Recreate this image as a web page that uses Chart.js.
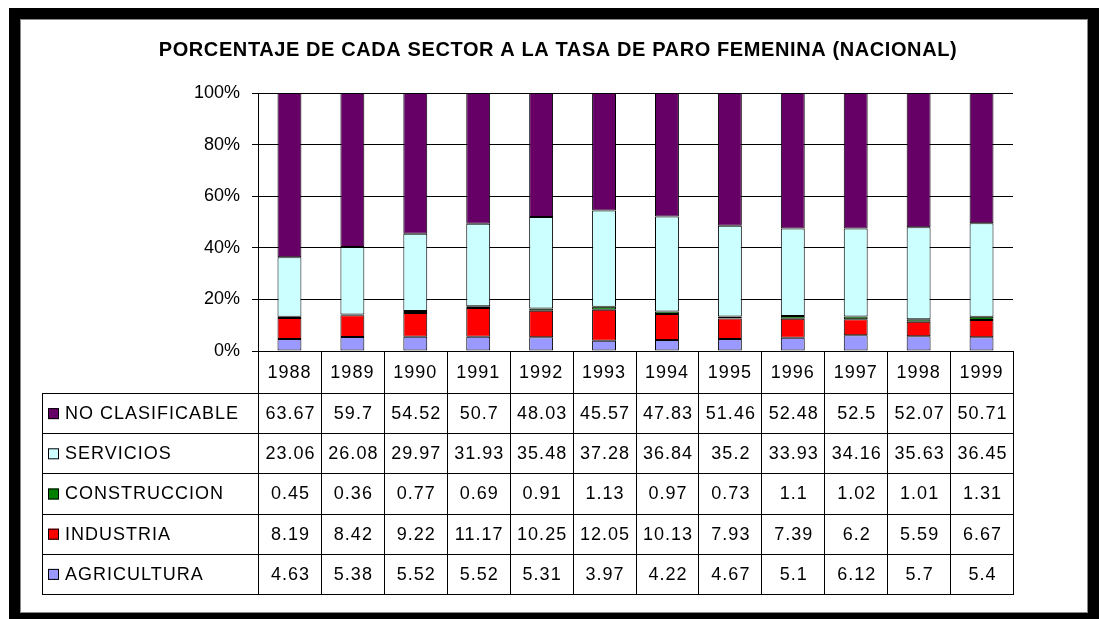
<!DOCTYPE html>
<html>
<head>
<meta charset="utf-8">
<script src="https://cdn.jsdelivr.net/npm/chart.js@4/dist/chart.umd.min.js"></script>
<style>
  body { margin: 0; background: #fff; }
  #wrap { width: 1101px; height: 619px; }
</style>
</head>
<body>
<div id="wrap"><canvas id="paro" width="1101" height="619"></canvas></div>
<script>
const title = 'PORCENTAJE DE CADA SECTOR A LA TASA DE PARO FEMENINA (NACIONAL)';
const years = ['1988','1989','1990','1991','1992','1993','1994','1995','1996','1997','1998','1999'];
const yTicks = [0, 20, 40, 60, 80, 100];

const noClasificable = [63.67, 59.7, 54.52, 50.7, 48.03, 45.57, 47.83, 51.46, 52.48, 52.5, 52.07, 50.71];
const servicios      = [23.06, 26.08, 29.97, 31.93, 35.48, 37.28, 36.84, 35.2, 33.93, 34.16, 35.63, 36.45];
const construccion   = [0.45, 0.36, 0.77, 0.69, 0.91, 1.13, 0.97, 0.73, 1.1, 1.02, 1.01, 1.31];
const industria      = [8.19, 8.42, 9.22, 11.17, 10.25, 12.05, 10.13, 7.93, 7.39, 6.2, 5.59, 6.67];
const agricultura    = [4.63, 5.38, 5.52, 5.52, 5.31, 3.97, 4.22, 4.67, 5.1, 6.12, 5.7, 5.4];

// bottom to top in the stack
const series = [
  { label: 'AGRICULTURA', data: agricultura, color: '#9999ff' },
  { label: 'INDUSTRIA', data: industria, color: '#ff0000' },
  { label: 'CONSTRUCCION', data: construccion, color: '#008000' },
  { label: 'SERVICIOS', data: servicios, color: '#ccffff' },
  { label: 'NO CLASIFICABLE', data: noClasificable, color: '#660066' }
];

// 100% stacked: share of each column total
const totals = years.map((y, i) => series.reduce((s, d) => s + d.data[i], 0));
const pct = arr => arr.map((v, i) => v / totals[i] * 100);

const FONT = '"Liberation Sans", Arial, sans-serif';

const frameTable = {
  id: 'frameTable',
  beforeDraw(chart) {
    const ctx = chart.ctx;
    ctx.save();
    ctx.fillStyle = '#fff';
    ctx.fillRect(0, 0, 1101, 619);
    ctx.fillStyle = '#000';
    ctx.fillRect(9, 8, 1090, 615);
    ctx.fillStyle = '#fff';
    ctx.fillRect(20, 19, 1068, 594);
    ctx.strokeStyle = '#888';
    ctx.lineWidth = 1;
    ctx.strokeRect(20.5, 19.5, 1067, 593);
    // title
    ctx.fillStyle = '#000';
    ctx.font = 'bold 20px ' + FONT;
    ctx.letterSpacing = '0.6px';
    ctx.textAlign = 'center';
    ctx.textBaseline = 'middle';
    ctx.fillText(title, 558, 50);
    ctx.restore();
  },
  afterDraw(chart) {
    const ctx = chart.ctx;
    const a = chart.chartArea;
    const n = years.length;
    const colW = (a.right - a.left) / n;
    const legLeft = 42;
    const yearTop = a.bottom;
    const yearBottom = 393;
    const rowH = (594 - yearBottom) / series.length;
    const tableBottom = yearBottom + rowH * series.length;
    ctx.save();
    ctx.strokeStyle = '#000';
    ctx.lineWidth = 1;
    ctx.beginPath();
    // vertical lines of year columns
    for (let i = 0; i <= n; i++) {
      const x = Math.round(a.left + i * colW) + 0.5;
      ctx.moveTo(x, yearTop);
      ctx.lineTo(x, tableBottom);
    }
    // legend column left edge
    ctx.moveTo(legLeft + 0.5, yearBottom);
    ctx.lineTo(legLeft + 0.5, tableBottom);
    // horizontal lines
    for (let r = 0; r <= series.length; r++) {
      const y = Math.round(yearBottom + r * rowH) + 0.5;
      ctx.moveTo(legLeft, y);
      ctx.lineTo(a.right + 1, y);
    }
    ctx.stroke();

    ctx.fillStyle = '#000';
    ctx.font = '18px ' + FONT;
    ctx.letterSpacing = '1px';
    ctx.textBaseline = 'middle';
    ctx.textAlign = 'center';
    years.forEach((y, i) => {
      ctx.fillText(y, a.left + (i + 0.5) * colW, (yearTop + yearBottom) / 2 + 1);
    });
    // rows: top row is the top of the stack
    const rows = series.slice().reverse();
    rows.forEach((s, r) => {
      const cy = yearBottom + (r + 0.5) * rowH + 1;
      ctx.fillStyle = s.color;
      ctx.fillRect(48, cy - 6, 11, 11);
      ctx.strokeStyle = '#000';
      ctx.strokeRect(48.5, cy - 5.5, 10, 10);
      ctx.fillStyle = '#000';
      ctx.textAlign = 'left';
      ctx.fillText(s.label, 65, cy);
      ctx.textAlign = 'center';
      s.data.forEach((v, i) => {
        ctx.fillText(String(v), a.left + (i + 0.5) * colW + 1, cy);
      });
    });
    ctx.restore();
  }
};

new Chart(document.getElementById('paro'), {
  type: 'bar',
  data: {
    labels: years,
    datasets: series.map(s => ({
      label: s.label,
      data: pct(s.data),
      backgroundColor: s.color,
      borderColor: '#000',
      borderWidth: 1,
      borderSkipped: false,
      categoryPercentage: 1,
      barPercentage: 0.38
    }))
  },
  options: {
    responsive: false,
    animation: false,
    layout: { padding: { left: 0, right: 88, top: 93, bottom: 268 } },
    plugins: {
      legend: { display: false },
      title: { display: false },
      tooltip: { enabled: false }
    },
    scales: {
      x: { stacked: true, display: false },
      y: {
        stacked: true,
        min: 0,
        max: 100,
        afterFit: s => { s.width = 258; },
        afterBuildTicks: s => { s.ticks = yTicks.map(v => ({ value: v })); },
        ticks: {
          callback: v => v + '%',
          color: '#000',
          padding: 12,
          font: { family: FONT, size: 18 }
        },
        grid: { color: '#000', lineWidth: 1, tickLength: 6, drawTicks: true },
        border: { color: '#000', width: 1 }
      }
    }
  },
  plugins: [frameTable]
});
</script>
</body>
</html>
